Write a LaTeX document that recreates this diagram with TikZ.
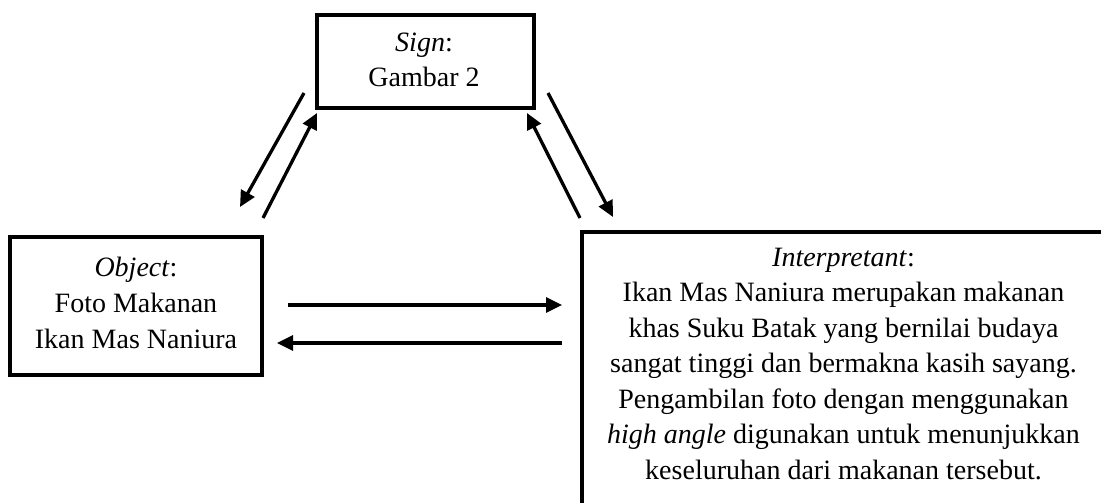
\documentclass[tikz,border=0pt]{standalone}
\usepackage{fontspec}
\setmainfont{Liberation Serif}
\usetikzlibrary{arrows.meta}
\begin{document}
\begin{tikzpicture}[x=1pt,y=-1pt,
  boxst/.style={draw,line width=3.8pt,inner sep=0pt},
  txt/.style={align=center,inner sep=0pt,font=\fontsize{28}{35.5}\selectfont},
  arr/.style={line width=3.3pt,-{Triangle[length=16pt,width=15pt]}}]
\clip (0,0) rectangle (1101,503);
\fill[white] (0,0) rectangle (1101,503);
% boxes
\node[boxst,minimum width=217pt,minimum height=93pt] (sign) at (425.5,61.5) {};
\node[txt,font=\fontsize{28}{34.5}\selectfont] (signtext) at (424,60) {\textit{Sign}:\\Gambar 2};
\node[boxst,minimum width=252pt,minimum height=138pt] (object) at (136,306) {};
\node[txt,font=\fontsize{28}{36}\selectfont] (objecttext) at (136,303) {\textit{Object}:\\Foto Makanan\\Ikan Mas Naniura};
\node[boxst,minimum width=580pt,minimum height=340pt,anchor=north west] (interp) at (580,230) {};
\node[txt] (interptext) at (843.5,364) {\textit{Interpretant}:\\Ikan Mas Naniura merupakan makanan\\khas Suku Batak yang bernilai budaya\\sangat tinggi dan bermakna kasih sayang.\\Pengambilan foto dengan menggunakan\\\textit{high angle} digunakan untuk menunjukkan\\keseluruhan dari makanan tersebut.};
% arrow end points
\coordinate (a1s) at (304,93);  \coordinate (a1e) at (240,207);
\coordinate (a2s) at (263,218); \coordinate (a2e) at (317,113);
\coordinate (a3s) at (580,218); \coordinate (a3e) at (527,113);
\coordinate (a4s) at (548,93);  \coordinate (a4e) at (613,217);
\coordinate (h1s) at (288,305); \coordinate (h1e) at (562,305);
\coordinate (h2s) at (562,343); \coordinate (h2e) at (277,343);
\draw[arr] (a1s) -- (a1e);
\draw[arr] (a2s) -- (a2e);
\draw[arr] (a3s) -- (a3e);
\draw[arr] (a4s) -- (a4e);
\draw[arr] (h1s) -- (h1e);
\draw[arr] (h2s) -- (h2e);
\end{tikzpicture}
\end{document}
